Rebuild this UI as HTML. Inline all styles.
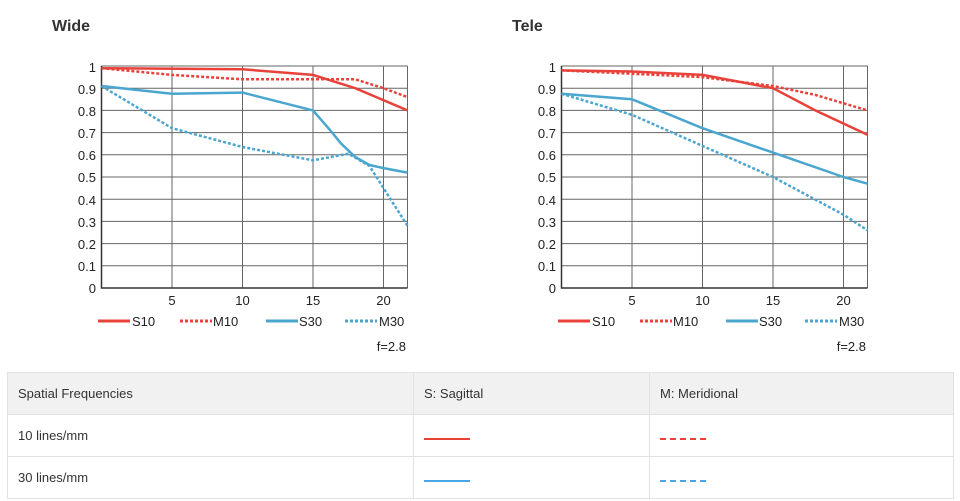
<!DOCTYPE html><html><head><style>
body{margin:0;width:960px;height:501px;background:#fff;font-family:"Liberation Sans",sans-serif;overflow:hidden;position:relative}
svg{position:absolute;left:0;top:0}
table{position:absolute;left:7px;top:372px;width:947px;border-collapse:collapse;font-size:13px;color:#333}
td{border:1px solid #e2e2e2;height:41px;padding:0 0 0 10px}
tr.h td{background:#f1f1f1}
.ln{display:inline-block;width:46px;height:0;border-top:2px solid}
</style></head><body>
<svg width="960" height="370" font-family="Liberation Sans" font-size="13" fill="#222">
<text x="52" y="31" font-weight="bold" font-size="16" fill="#333">Wide</text>
<text x="512" y="31" font-weight="bold" font-size="16" fill="#333">Tele</text>
<defs>
<g id="grid" stroke="#666" stroke-width="1" fill="none">
<path d="M101.5 66H407.5M101.5 88.2H407.5M101.5 110.4H407.5M101.5 132.6H407.5M101.5 154.8H407.5M101.5 177H407.5M101.5 199.2H407.5M101.5 221.4H407.5M101.5 243.6H407.5M101.5 265.8H407.5"/>
<path d="M172 66V288M242.5 66V288M313 66V288M383.5 66V288M407.5 66V288"/>
<path d="M101.5 66V288H407.5" stroke="#333" stroke-width="1.5"/>
</g>
<g id="lab" text-anchor="end" font-size="13">
<text x="96" y="72">1</text><text x="96" y="94">0.9</text><text x="96" y="116">0.8</text><text x="96" y="138">0.7</text><text x="96" y="160">0.6</text><text x="96" y="182">0.5</text><text x="96" y="205">0.4</text><text x="96" y="227">0.3</text><text x="96" y="249">0.2</text><text x="96" y="271">0.1</text><text x="96" y="293">0</text>
<g text-anchor="middle"><text x="172" y="305">5</text><text x="242.5" y="305">10</text><text x="313" y="305">15</text><text x="383.5" y="305">20</text></g>
<text x="406" y="351">f=2.8</text>
<g text-anchor="start"><text x="132" y="326">S10</text><text x="213" y="326">M10</text><text x="299" y="326">S30</text><text x="379" y="326">M30</text></g>
<g stroke-width="3" fill="none"><path d="M98 321H130" stroke="#e8423a"/><path d="M180 321H212" stroke="#e8423a" stroke-dasharray="3 2"/><path d="M266 321H298" stroke="#4aa6cf"/><path d="M345 321H377" stroke="#4aa6cf" stroke-dasharray="3 2"/></g>
</g>
</defs>
<use href="#grid"/><use href="#lab"/>
<g transform="translate(460,0)"><use href="#grid"/><use href="#lab"/></g>
<g fill="none" stroke-width="2.5" stroke-linejoin="round">
<polyline stroke="#e8423a" points="101.5,68.2 242.5,69.3 313,74.9 355.3,88.2 407.5,110.4"/>
<polyline stroke="#e8423a" stroke-dasharray="3 2" points="101.5,68.2 172,74.9 242.5,79.3 313,79.3 355.3,79.3 383.5,88.2 407.5,97.1"/>
<polyline stroke="#4aa6cf" points="101.5,86 172,93.8 242.5,92.6 313,110.4 330,130 341.2,143.7 355.3,157 369.4,165 383.5,168.1 407.5,172.6"/>
<polyline stroke="#4aa6cf" stroke-dasharray="3 2" points="101.5,86 172,128.2 242.5,147 313,160.35 348.3,153.7 369.4,165.9 407.5,225.8"/>
<g transform="translate(460,0)">
<polyline stroke="#e8423a" points="101.5,70.4 172,71.5 242.5,74.9 313,88.2 355.3,110.4 407.5,134.8"/>
<polyline stroke="#e8423a" stroke-dasharray="3 2" points="101.5,70.4 242.5,77.1 313,86 355.3,94.9 407.5,110.4"/>
<polyline stroke="#4aa6cf" points="101.5,93.8 172,99.3 242.5,128.2 313,152.6 383.5,177 407.5,183.7"/>
<polyline stroke="#4aa6cf" stroke-dasharray="3 2" points="101.5,93.8 172,114.8 242.5,145.9 313,177 383.5,214.7 407.5,230.3"/>
</g></g>
</svg>
<table>
<tr class="h"><td style="width:395px">Spatial Frequencies</td><td style="width:225px">S: Sagittal</td><td>M: Meridional</td></tr>
<tr><td>10 lines/mm</td><td><span class="ln" style="border-color:#e8423a"></span></td><td><span class="ln" style="border-top:2px dashed #e8423a"></span></td></tr>
<tr><td>30 lines/mm</td><td><span class="ln" style="border-color:#4aa6e8"></span></td><td><span class="ln" style="border-top:2px dashed #4aa6e8"></span></td></tr>
</table>
</body></html>
